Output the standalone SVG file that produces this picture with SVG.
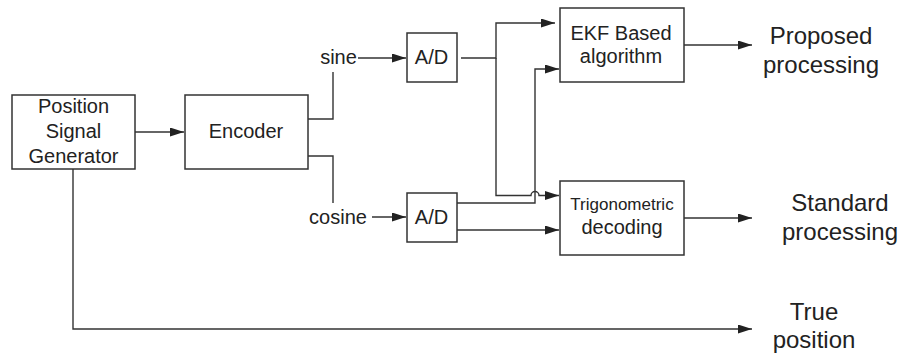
<svg xmlns="http://www.w3.org/2000/svg" width="899" height="355" viewBox="0 0 899 355">
<defs>
<style>
.box{fill:#fff;stroke:#333;stroke-width:1.5}
.t{font-family:"Liberation Sans",Arial,sans-serif;font-size:20px;fill:#222;text-anchor:middle}
.s{font-size:17px}
.big{font-size:24px}
.c{fill:none;stroke:#333;stroke-width:1.4}
</style>
<marker id="ah" markerUnits="userSpaceOnUse" markerWidth="14" markerHeight="9" refX="14" refY="4.5" orient="auto">
<path d="M0,0 L14,4.5 L0,9 z" fill="#222"/>
</marker>
</defs>
<rect width="899" height="355" fill="#fff"/>
<g id="connectors">
<path class="c" d="M135,132 H184" marker-end="url(#ah)"/>
<path class="c" d="M308,119 H333 V72"/>
<path class="c" d="M358,58 H406" marker-end="url(#ah)"/>
<path class="c" d="M308,156 H333 V203"/>
<path class="c" d="M372,217 H406" marker-end="url(#ah)"/>
<path class="c" d="M461,58 H496 V23 H555" marker-end="url(#ah)"/>
<path class="c" d="M496,58 V195.5 H531 A4,4 0 0 1 539,195.5 H559" marker-end="url(#ah)"/>
<path class="c" d="M457,203 H535 V69 H559" marker-end="url(#ah)"/>
<path class="c" d="M457,230 H559" marker-end="url(#ah)"/>
<path class="c" d="M684,45 H752" marker-end="url(#ah)"/>
<path class="c" d="M684,218 H752" marker-end="url(#ah)"/>
<path class="c" d="M73,169 V329 H752" marker-end="url(#ah)"/>
</g>
<g id="psg">
<rect class="box" x="12" y="95" width="123" height="74"/>
<text class="t" x="73.5" y="113">Position</text>
<text class="t" x="73.5" y="138">Signal</text>
<text class="t" x="73.5" y="163">Generator</text>
</g>
<g id="encoder">
<rect class="box" x="185" y="95" width="123" height="74"/>
<text class="t" x="246" y="138">Encoder</text>
</g>
<g id="sine">
<text class="t" x="338.5" y="64">sine</text>
</g>
<g id="cosine">
<text class="t" x="338" y="224">cosine</text>
</g>
<g id="ad1">
<rect class="box" x="407" y="33" width="50" height="49"/>
<text class="t" x="431.5" y="64">A/D</text>
</g>
<g id="ad2">
<rect class="box" x="407" y="193" width="50" height="49"/>
<text class="t" x="431.5" y="224">A/D</text>
</g>
<g id="ekf">
<rect class="box" x="560" y="8" width="124" height="74"/>
<text class="t" x="621" y="40">EKF Based</text>
<text class="t" x="621" y="63">algorithm</text>
</g>
<g id="trig">
<rect class="box" x="560" y="181" width="124" height="74"/>
<text class="t s" x="622" y="210">Trigonometric</text>
<text class="t" x="622" y="234">decoding</text>
</g>
<g id="proposed">
<text class="t big" x="821" y="44">Proposed</text>
<text class="t big" x="821" y="73">processing</text>
</g>
<g id="standard">
<text class="t big" x="840" y="211">Standard</text>
<text class="t big" x="840" y="240">processing</text>
</g>
<g id="true">
<text class="t big" x="814" y="320">True</text>
<text class="t big" x="814" y="348">position</text>
</g>
</svg>
